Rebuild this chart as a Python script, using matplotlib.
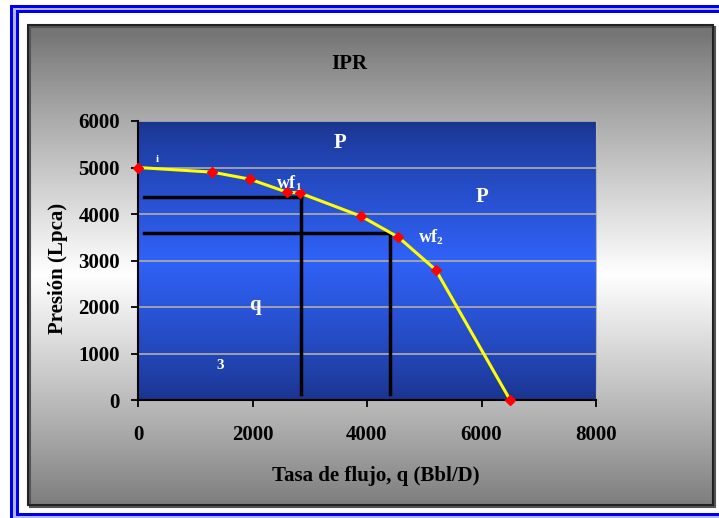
import numpy as np
import matplotlib.pyplot as plt
from matplotlib.patches import Rectangle

# curva IPR (q en Bbl/D, Pwf en Lpca)
q = [0, 1300, 1950, 2600, 2830, 3900, 4550, 5200, 6500]
p = [5000, 4900, 4750, 4470, 4450, 3950, 3500, 2800, 0]

# lineas de lectura para Pwf1 y Pwf2
q_wf = [2840, 4400]
p_wf = [4370, 3600]

x_ticks = [0, 2000, 4000, 6000, 8000]
y_ticks = [0, 1000, 2000, 3000, 4000, 5000, 6000]

# etiquetas blancas dentro del grafico: texto, subindice, x, y, tamaño
etiquetas = [
    ('P', '', 3530, 5520, 15),
    ('P', '', 6000, 4370, 15),
    ('wf', '1', 2600, 4660, 13),
    ('wf', '2', 5070, 3500, 13),
    ('q', '', 2050, 2050, 15),
    ('3', '', 1430, 750, 11),
    ('i', '', 330, 5170, 8),
]

plt.rcParams['font.family'] = ['Liberation Serif', 'DejaVu Serif']
plt.rcParams['font.weight'] = 'bold'

W, H = 719, 518
fig = plt.figure(figsize=(W / 100, H / 100), dpi=100)

# fondo: marco azul doble y recuadro gris
bg = fig.add_axes([0, 0, 1, 1])
bg.axis('off')
marcos = [(10, 5, W + 5, H + 5, '#0000f0'),
          (13, 7.5, W + 5, H + 3, '#b4b4ff'),
          (16, 10, W + 5, 515.5, '#0000f0'),
          (18.5, 13, W + 5, 512.5, 'white')]
for x0, y0, x1, y1, c in marcos:
    bg.add_patch(Rectangle((x0, y0), x1 - x0, y1 - y0, color=c, lw=0))

t = np.linspace(0, 1, 300)
v = 0.46 + 0.54 * (1 - np.abs(2 * t - 1.04)).clip(0, 1) ** 0.9
gris = np.dstack([v, v, v]).reshape(-1, 1, 3)
bg.imshow(gris, extent=[28, 713, 505, 25], aspect='auto', zorder=1)
bg.add_patch(Rectangle((30, 27), 685, 480, fill=False, ec='#555555', lw=1.5, zorder=1.5))
bg.add_patch(Rectangle((28, 25), 685, 480, fill=False, ec='#222222', lw=1.5, zorder=2))
bg.set_xlim(0, W)
bg.set_ylim(H, 0)

# area de trazado
ax = fig.add_axes([138 / W, (H - 400) / H, 458 / W, 279 / H])
oscuro = np.array([26, 52, 140]) / 255
claro = np.array([48, 98, 248]) / 255
w = (1 - np.abs(2 * t - 1)) ** 0.8
azul = (oscuro + (claro - oscuro) * w[:, None]).reshape(-1, 1, 3)
ax.imshow(azul, extent=[0, 1, 0, 1], transform=ax.transAxes, aspect='auto', zorder=0)

for qi, pi in zip(q_wf, p_wf):
    ax.plot([110, qi], [pi, pi], color='black', lw=2.5, zorder=3)
    ax.plot([qi, qi], [pi, 120], color='black', lw=2.5, zorder=3)

ax.plot(q, p, color='#ffff00', lw=2.2, zorder=4)
ax.plot(q, p, 'D', color='#ff0000', ms=5.5, zorder=5, clip_on=False)

for txt, sub, x, y, s in etiquetas:
    ax.text(x, y, txt, color='white', fontsize=s, fontweight='bold', ha='center', va='center', zorder=6)
    if sub:
        ax.text(x + 185, y - 90, sub, color='white', fontsize=8,
                fontweight='bold', ha='center', va='center', zorder=6)

ax.set_xlim(0, 8000)
ax.set_ylim(0, 6000)
ax.set_xticks(x_ticks)
ax.set_yticks(y_ticks)
ax.yaxis.grid(True, color='#a8a8a8', lw=1.3)
ax.set_axisbelow(True)
ax.spines['top'].set_visible(False)
ax.spines['right'].set_color('#b8b8b8')
ax.spines['left'].set_linewidth(1.5)
ax.spines['bottom'].set_linewidth(1.5)
ax.tick_params(direction='out', length=5, width=1.3, labelsize=15)
ax.tick_params(axis='x', pad=13)
ax.tick_params(axis='y', pad=8)

fig.text(349 / W, 1 - 64 / H, 'IPR', fontsize=15, fontweight='bold', ha='center', va='center')
fig.text(376 / W, 1 - 476 / H, 'Tasa de flujo, q (Bbl/D)', fontsize=15, fontweight='bold',
         ha='center', va='center')
fig.text(58 / W, 1 - 268 / H, 'Presión (Lpca)', fontsize=15, fontweight='bold',
         ha='center', va='center', rotation=90)

fig.savefig('out.png', dpi=100)
